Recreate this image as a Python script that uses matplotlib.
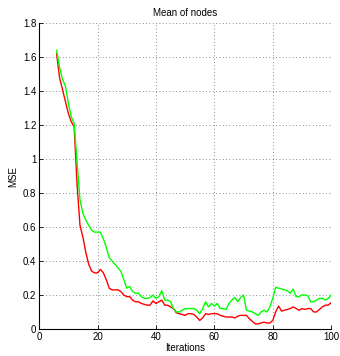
import matplotlib
matplotlib.use("Agg")
import matplotlib.pyplot as plt

# iterations 6..100, MSE
iterations = list(range(6, 101))
mse_red = [1.62, 1.48, 1.41, 1.34,
           1.27, 1.22, 1.19, 0.85, 0.61, 0.54, 0.45, 0.38, 0.34, 0.33,
           0.33, 0.35, 0.33, 0.29, 0.24, 0.23, 0.23, 0.23, 0.22, 0.20,
           0.19, 0.19, 0.17, 0.16, 0.16, 0.15, 0.145, 0.14, 0.14, 0.165,
           0.15, 0.16, 0.17, 0.14, 0.14, 0.13, 0.12, 0.095, 0.09, 0.085,
           0.08, 0.09, 0.09, 0.085, 0.07, 0.05, 0.065, 0.09, 0.085, 0.09,
           0.09, 0.09, 0.08, 0.075, 0.07, 0.07, 0.07, 0.065, 0.075, 0.08,
           0.08, 0.08, 0.06, 0.045, 0.03, 0.03, 0.035, 0.04, 0.035, 0.035,
           0.05, 0.10, 0.135, 0.105, 0.11, 0.115, 0.12, 0.13, 0.12, 0.11,
           0.12, 0.115, 0.12, 0.12, 0.10, 0.10, 0.115, 0.13, 0.14, 0.14,
           0.155]
mse_green = [1.64, 1.54, 1.47, 1.43,
             1.33, 1.25, 1.21, 0.98, 0.76, 0.68, 0.64, 0.61, 0.58, 0.57,
             0.57, 0.57, 0.53, 0.48, 0.42, 0.40, 0.38, 0.36, 0.34, 0.29,
             0.24, 0.25, 0.22, 0.21, 0.21, 0.19, 0.18, 0.18, 0.185, 0.20,
             0.18, 0.19, 0.225, 0.17, 0.17, 0.16, 0.12, 0.10, 0.10, 0.11,
             0.12, 0.12, 0.12, 0.12, 0.11, 0.09, 0.12, 0.16, 0.13, 0.15,
             0.135, 0.15, 0.12, 0.12, 0.115, 0.15, 0.17, 0.185, 0.16, 0.185,
             0.20, 0.11, 0.105, 0.10, 0.09, 0.08, 0.10, 0.11, 0.10, 0.13,
             0.18, 0.245, 0.24, 0.235, 0.23, 0.225, 0.21, 0.235, 0.19, 0.19,
             0.20, 0.20, 0.195, 0.16, 0.16, 0.17, 0.18, 0.18, 0.17, 0.18,
             0.20]

x_ticks = [0, 20, 40, 60, 80, 100]
y_ticks = [0, 0.2, 0.4, 0.6, 0.8, 1, 1.2, 1.4, 1.6, 1.8]
y_labels = ["0", "0.2", "0.4", "0.6", "0.8", "1", "1.2", "1.4", "1.6", "1.8"]

plt.rcParams['font.family'] = ['Liberation Sans', 'DejaVu Sans']
plt.rcParams['font.size'] = 7

fig = plt.figure(figsize=(3.4, 3.56), dpi=100)
ax = fig.add_axes([0.115, 0.076, 0.859, 0.859])

ax.plot(iterations, mse_red, color=(1, 0, 0), lw=1)
ax.plot(iterations, mse_green, color=(0, 1, 0), lw=1)

ax.set_xlim(0, 100)
ax.set_ylim(0, 1.8)
ax.set_xticks(x_ticks)
ax.set_yticks(y_ticks)
ax.set_yticklabels(y_labels)
ax.tick_params(direction='in', length=3, width=0.6, pad=2)
ax.grid(True, linestyle=(0, (1, 3)), color='#666666', linewidth=0.6)
ax.spines['top'].set_visible(False)
ax.spines['right'].set_visible(False)
ax.spines['left'].set_linewidth(0.8)
ax.spines['bottom'].set_linewidth(0.8)

ax.set_title("Mean of nodes", fontsize=7, pad=5)
ax.set_xlabel("Iterations", labelpad=1)
ax.set_ylabel("MSE", labelpad=3)

fig.savefig("out.png", dpi=100)
